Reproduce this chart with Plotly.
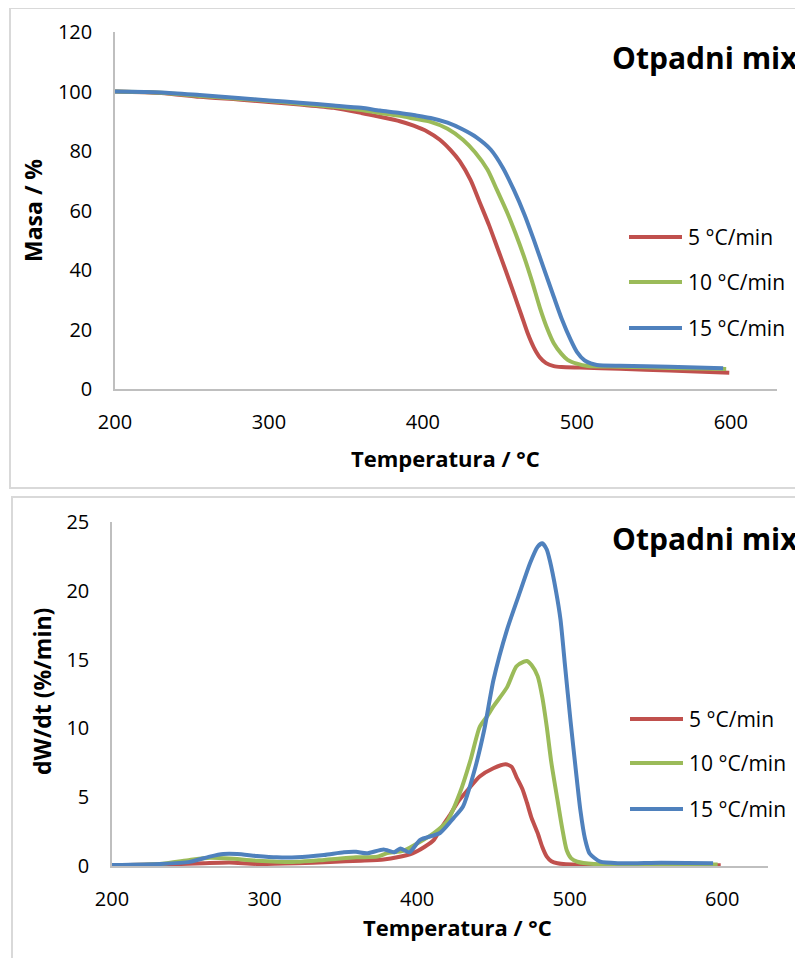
import plotly.graph_objects as go

# The page body has an 8 px margin, so the figure is placed 8 px in from the window corner.
OFF = 8
W, H = 803 - OFF, 958 - OFF

# ---------------- data ----------------
series_names = ["5 °C/min", "10 °C/min", "15 °C/min"]
series_colors = ["#C0504D", "#9BBB59", "#4F81BD"]

# TG curves: mass (%) vs temperature (°C)
tg_T_5 = [200, 230, 255, 280, 300, 320, 342, 360, 372, 385, 394, 403, 411, 418, 424, 431, 437, 443,
          448, 454, 459, 464, 468, 472, 476, 480, 485, 490, 502, 528, 560, 599]
tg_m_5 = [100, 99.5, 98.2, 97.3, 96.5, 95.6, 94.5, 92.8, 91.5, 90, 88.5, 86.5, 83.8, 80.3, 76.5, 70.2, 62.6,
          55, 48, 39.5, 32.2, 24.8, 18.8, 14, 10.6, 8.7, 7.7, 7.4, 7.2, 6.8, 6.2, 5.5]

tg_T_10 = [200, 230, 255, 280, 300, 320, 342, 360, 372, 385, 395, 405, 416, 426, 434, 442, 448, 455, 460,
           466, 471, 476, 481, 485, 490, 494, 500, 507, 528, 560, 597]
tg_m_10 = [100, 99.6, 98.5, 97.6, 96.8, 95.9, 94.9, 93.8, 92.8, 91.8, 90.8, 89.8, 87.5, 83.8, 79.5, 73.7, 67,
           59, 52.5, 44, 36, 27.3, 20, 15.4, 11.8, 9.8, 8.5, 7.7, 7.5, 7.1, 6.7]

tg_T_15 = [200, 230, 255, 280, 300, 320, 342, 360, 372, 385, 395, 405, 416, 426, 435, 444, 452, 459, 466,
           472, 478, 485, 490, 496, 500, 505, 509, 513, 528, 560, 595]
tg_m_15 = [100, 99.7, 98.8, 97.8, 97, 96.2, 95.3, 94.5, 93.6, 92.8, 92, 91.1, 89.5, 87.2, 84.5, 80.5, 74.3,
           67, 58.6, 50.2, 41.3, 31, 23.8, 16.5, 12.5, 9.6, 8.6, 8.1, 7.8, 7.5, 7.0]

# DTG curves: dW/dt (%/min) vs temperature (°C)
dtg_T_5 = [200, 231, 260, 277, 295, 321, 343, 363, 378, 387, 397, 405, 411, 416, 422, 427, 433, 441, 450,
           458, 462, 465, 469, 472, 475, 479, 482, 485, 488, 492, 507, 550, 599]
dtg_v_5 = [0.05, 0.1, 0.2, 0.25, 0.15, 0.2, 0.29, 0.39, 0.48, 0.63, 0.92, 1.4, 1.9, 2.8, 3.8, 4.7, 5.5, 6.5,
           7.1, 7.39, 7.2, 6.5, 5.6, 4.6, 3.5, 2.4, 1.4, 0.68, 0.35, 0.2, 0.07, 0.05, 0.05]

dtg_T_10 = [200, 231, 251, 264, 277, 295, 321, 339, 360, 374, 380, 391, 398, 411, 420, 428, 435, 441, 446,
            450, 459, 465, 470, 472, 475, 479, 482, 485, 488, 492, 495, 498, 501, 505, 516, 550, 597]
dtg_v_10 = [0.05, 0.15, 0.44, 0.6, 0.55, 0.39, 0.3, 0.44, 0.63, 0.68, 0.92, 1.1, 1.5, 2.4, 3.3, 5.3, 7.7,
            10.1, 10.9, 11.6, 13.0, 14.5, 14.85, 14.9, 14.6, 13.8, 12.3, 10.1, 7.5, 4.8, 2.8, 1.16, 0.55,
            0.31, 0.15, 0.1, 0.1]

dtg_T_15 = [200, 232, 251, 264, 273, 282, 295, 308, 321, 339, 352, 360, 367, 378, 385, 389, 395, 402, 415,
            424, 430, 437, 444, 450, 459, 468, 474, 479, 482, 485, 487, 491, 494, 497, 500.5, 504, 507, 510,
            513, 520, 533, 560, 594]
dtg_v_15 = [0.07, 0.15, 0.3, 0.68, 0.87, 0.87, 0.73, 0.63, 0.63, 0.8, 1.0, 1.03, 0.92, 1.2, 1.0, 1.28, 1.0,
            1.9, 2.4, 3.5, 4.3, 6.7, 9.9, 13.5, 17.2, 20.1, 22.0, 23.2, 23.45, 23.0, 22.2, 20.0, 17.9, 14.5,
            10.6, 7.0, 4.07, 2.0, 0.92, 0.31, 0.2, 0.24, 0.2]

x_ticks = [200, 300, 400, 500, 600]
tg_y_ticks = [0, 20, 40, 60, 80, 100, 120]
dtg_y_ticks = [0, 5, 10, 15, 20, 25]

chart_title = "Otpadni mix"
x_title = "Temperatura / °C"
tg_y_title = "Masa / %"
dtg_y_title = "dW/dt (%/min)"

# ---------------- figure ----------------
def px(x):
    return (x - OFF) / W

def py(y):
    return 1 - (y - OFF) / H

FONT = "Open Sans"
LW = 4
fig = go.Figure()

tg_sets = [(tg_T_5, tg_m_5), (tg_T_10, tg_m_10), (tg_T_15, tg_m_15)]
dtg_sets = [(dtg_T_5, dtg_v_5), (dtg_T_10, dtg_v_10), (dtg_T_15, dtg_v_15)]

for (t, m), name, col in zip(tg_sets, series_names, series_colors):
    fig.add_trace(go.Scatter(x=t, y=m, mode="lines", name=name, xaxis="x", yaxis="y",
                             line=dict(color=col, width=LW, shape="spline", smoothing=0.7),
                             showlegend=False))
for (t, v), name, col in zip(dtg_sets, series_names, series_colors):
    fig.add_trace(go.Scatter(x=t, y=v, mode="lines", name=name, xaxis="x2", yaxis="y2",
                             line=dict(color=col, width=LW, shape="spline", smoothing=0.6),
                             showlegend=False))

axis_common = dict(showgrid=False, zeroline=False, showline=True, linecolor="#BFBFBF", linewidth=1.5,
                   ticks="", automargin=False,
                   tickfont=dict(family=FONT, size=20, color="#000000"))

fig.update_layout(
    template="none",
    width=W, height=H,
    margin=dict(l=0, r=0, t=0, b=0, pad=0, autoexpand=False),
    paper_bgcolor="white", plot_bgcolor="white",
    xaxis=dict(domain=[px(115), px(777)], range=[200, 630], anchor="y",
               tickvals=x_ticks, ticklabelstandoff=14, **axis_common),
    yaxis=dict(domain=[py(389), py(32)], range=[0, 120], anchor="x",
               tickvals=tg_y_ticks, ticklabelstandoff=17, **axis_common),
    xaxis2=dict(domain=[px(112), px(768)], range=[200, 630], anchor="y2",
                tickvals=x_ticks, ticklabelstandoff=14, **axis_common),
    yaxis2=dict(domain=[py(866), py(522)], range=[0, 25], anchor="x2",
                tickvals=dtg_y_ticks, ticklabelstandoff=17, **axis_common),
    showlegend=False,
)

shapes = [
    dict(type="rect", xref="paper", yref="paper", x0=px(10), x1=px(830), y0=py(488), y1=py(8),
         line=dict(color="#D9D9D9", width=2), layer="below"),
    dict(type="rect", xref="paper", yref="paper", x0=px(12), x1=px(830), y0=py(990), y1=py(497),
         line=dict(color="#D9D9D9", width=2), layer="below"),
]

annotations = []

def txt(text, x, y, size, bold=False, xanchor="center", angle=0):
    annotations.append(dict(text=("<b>%s</b>" % text) if bold else text, xref="paper", yref="paper",
                            x=px(x), y=py(y), xanchor=xanchor, yanchor="middle", showarrow=False,
                            textangle=angle, font=dict(family=FONT, size=size, color="#000000")))

# titles
txt(chart_title, 800, 57, 30, bold=True, xanchor="right")
txt(chart_title, 800, 538, 30, bold=True, xanchor="right")
txt(x_title, 445, 458, 22, bold=True)
txt(x_title, 457, 927, 22, bold=True)
txt(tg_y_title, 33, 211, 23, bold=True, angle=-90)
txt(dtg_y_title, 42, 692, 23, bold=True, angle=-90)

# manual legends
for i, (name, col) in enumerate(zip(series_names, series_colors)):
    for ly, lx0 in (([237, 282, 328][i], 629), ([719, 763, 809][i], 630)):
        shapes.append(dict(type="line", xref="paper", yref="paper", x0=px(lx0), x1=px(lx0 + 53),
                           y0=py(ly), y1=py(ly), line=dict(color=col, width=LW)))
        txt(name, lx0 + 57, ly, 21, xanchor="left")

fig.update_layout(shapes=shapes, annotations=annotations)
fig.write_html("out.html")
